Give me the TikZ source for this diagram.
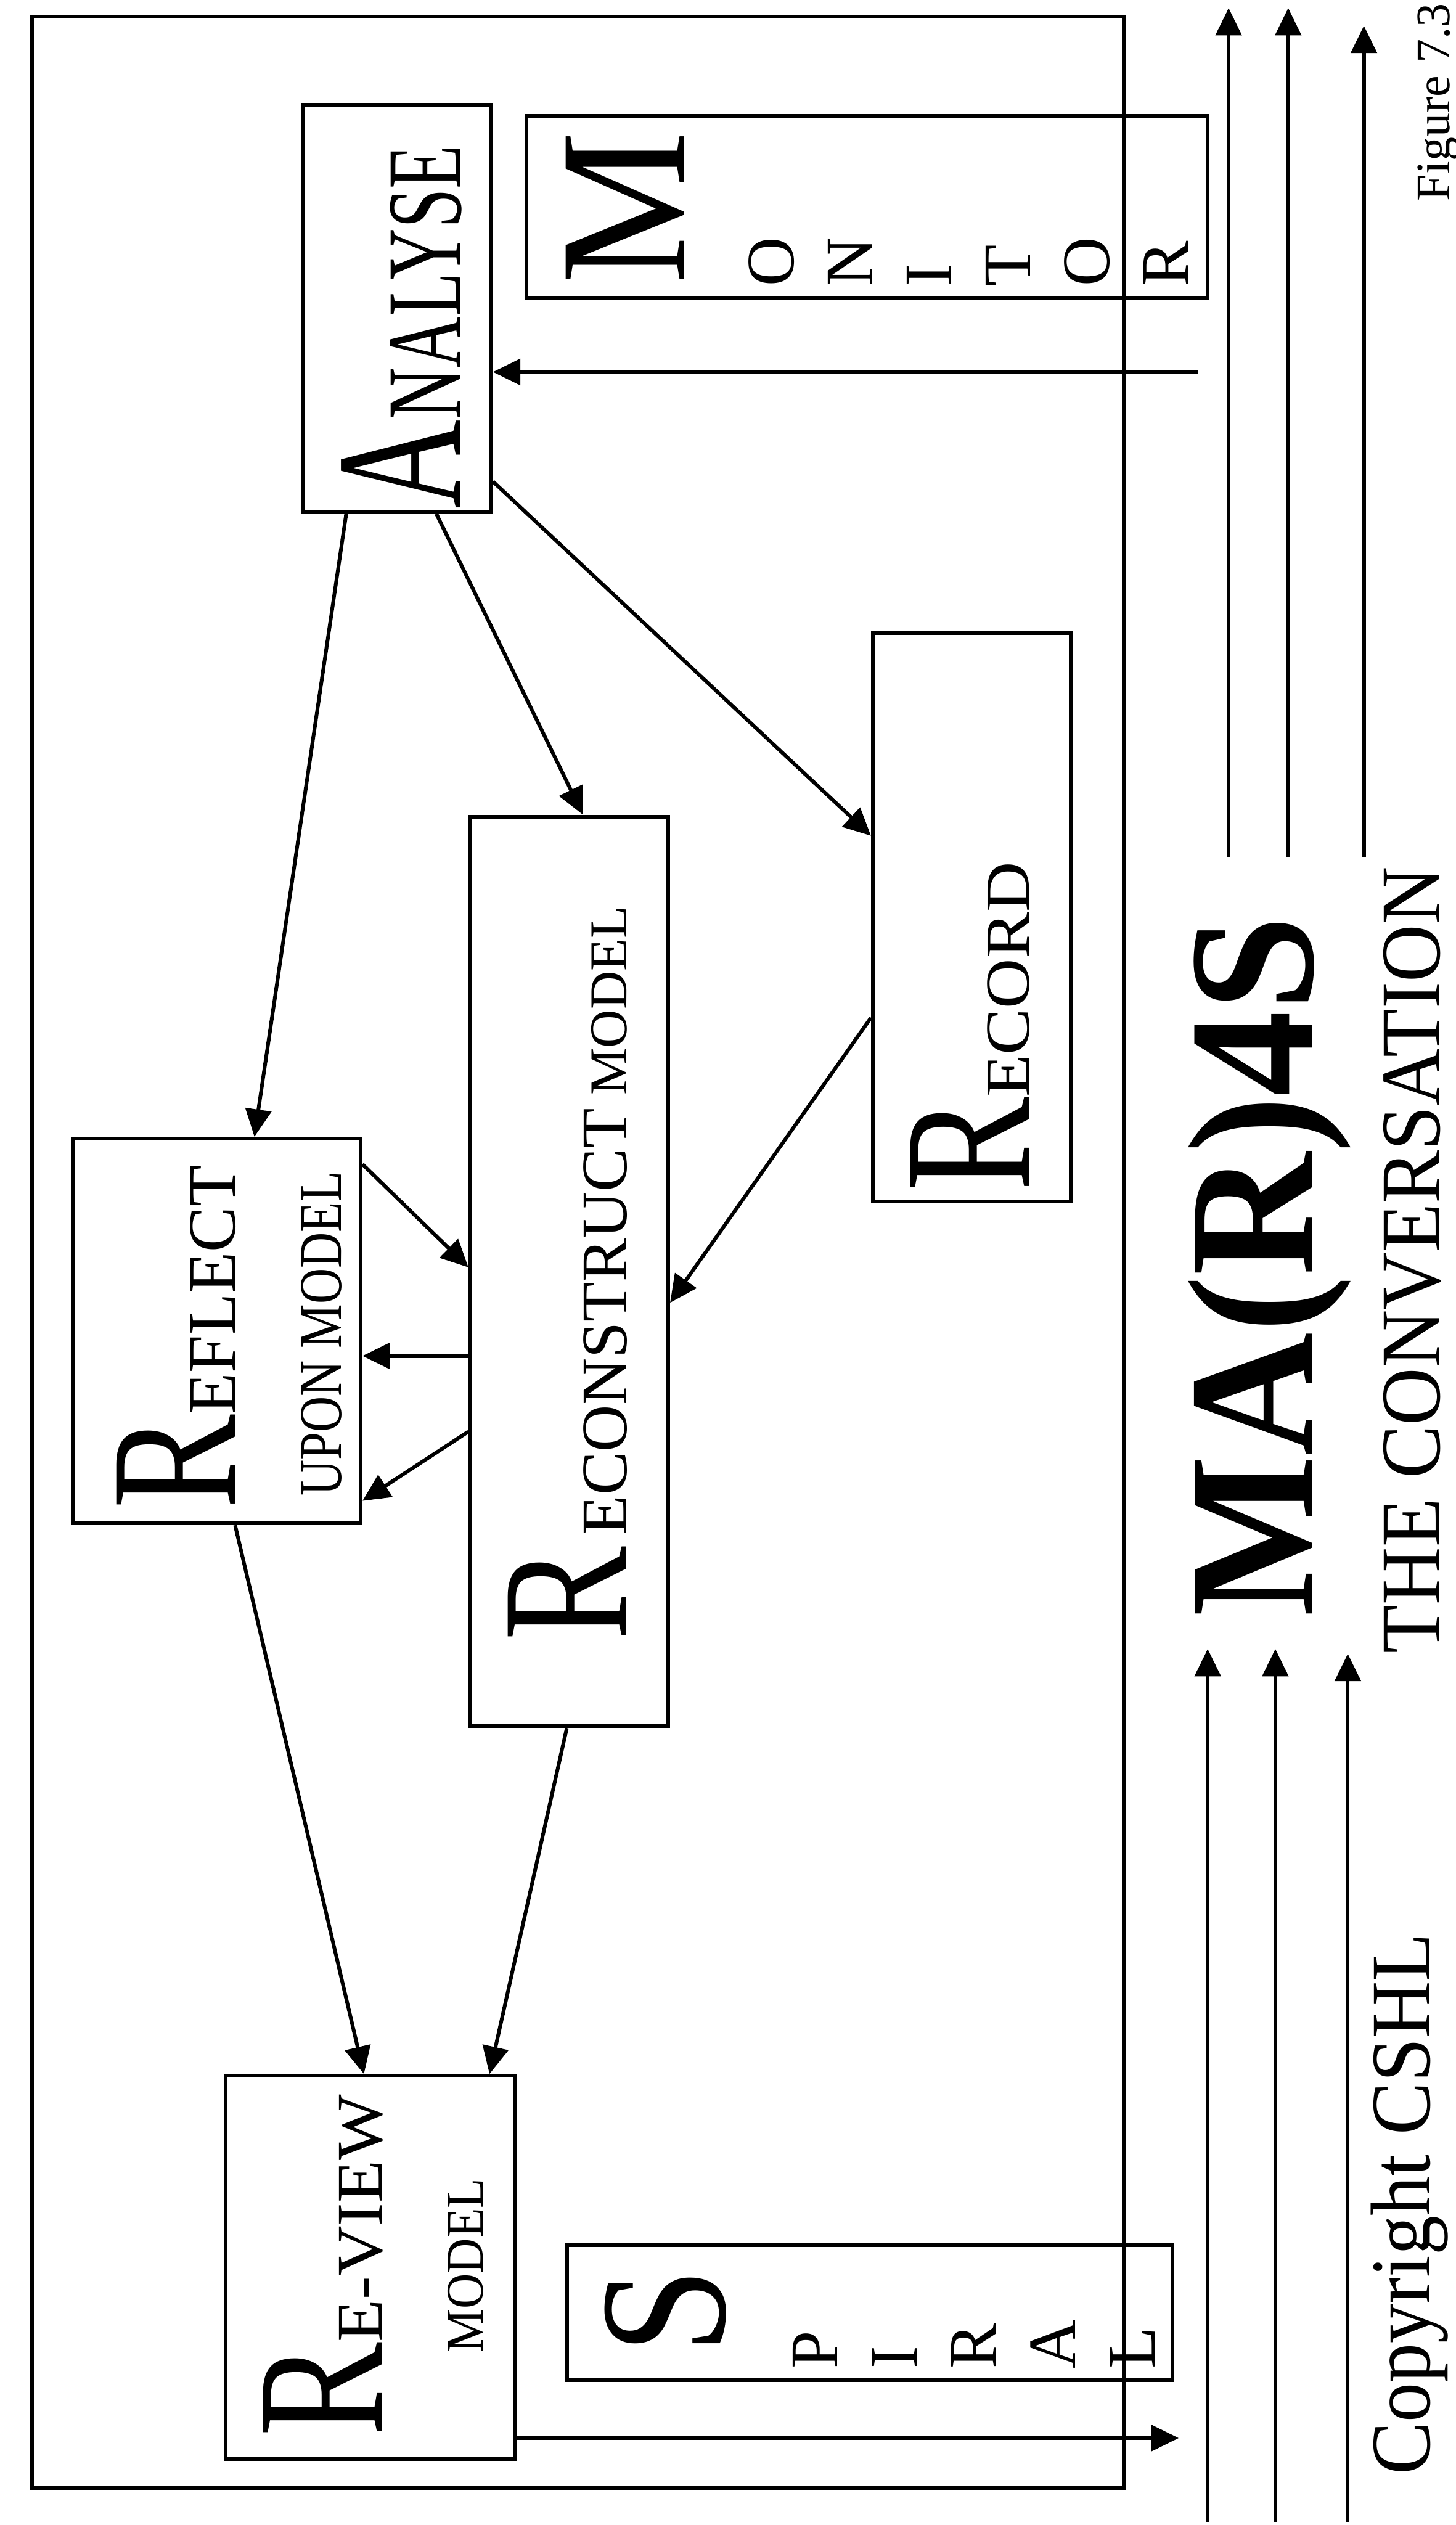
\documentclass[tikz,border=0pt]{standalone}
\usepackage{fontspec}
\setmainfont{Liberation Serif}
\usepackage{graphicx}
\usetikzlibrary{arrows.meta}

% big first letter, squeezed along the line
\newcommand{\bigini}[2]{{\fontsize{64}{64}\selectfont\scalebox{#1}[1]{#2}}}
% rest of a word: size, squeeze, text
\newcommand{\capsrun}[3]{{\fontsize{#1}{#1}\selectfont\scalebox{#2}[1]{#3}}}

\begin{document}
\begin{tikzpicture}[
      x=0.02cm, y=-0.02cm,
      line width=1.3pt,
      box/.style={draw, rectangle, inner sep=0pt},
      lbl/.style={rotate=90, anchor=base west, inner sep=0pt},
      oneletter/.style={lbl, font=\fontsize{24}{24}\selectfont},
      arr/.style={-{Triangle[length=0.34cm, width=0.32cm]}}
    ]
      \path[use as bounding box, fill=white] (0,0) rectangle (904,1568);

      % frame and boxes
      \node[box, minimum width=13.56cm, minimum height=30.7cm] (frame) at (359,777.5) {};
      \node[box, minimum width=2.34cm, minimum height=5.06cm] (analyse) at (246.5,191.5) {};
      \node[box, minimum width=8.46cm, minimum height=2.26cm] (monitor) at (538.5,128.5) {};
      \node[box, minimum width=2.46cm, minimum height=7.06cm] (record) at (603.5,569.5) {};
      \node[box, minimum width=2.46cm, minimum height=11.3cm] (recon) at (353.5,789.5) {};
      \node[box, minimum width=3.58cm, minimum height=4.78cm] (reflect) at (134.5,826.5) {};
      \node[box, minimum width=3.6cm, minimum height=4.76cm] (review) at (230,1408) {};
      \node[box, minimum width=7.52cm, minimum height=1.68cm] (spiral) at (540,1436) {};

      % labels
      \node[lbl] (analyseT) at (286,317) {\bigini{0.68}{A}\capsrun{37.7}{0.67}{NALYSE}};
      \node[lbl] (reflectT) at (146,938) {\bigini{0.78}{R}\capsrun{24}{1}{EFLECT}};
      \node[lbl] (reflectU) at (212,930) {\capsrun{21.4}{0.82}{UPON MODEL}};
      \node[lbl] (reconT) at (389,1020) {\bigini{0.78}{R}\hspace{4pt}\capsrun{23}{1}{ECONSTRUCT}\capsrun{18.8}{1}{\ MODEL}};
      \node[lbl] (recordT) at (639,741) {\bigini{0.78}{R}\capsrun{22.3}{1.1}{ECORD}};
      \node[lbl] (reviewT) at (237,1514) {\bigini{0.78}{R}\capsrun{23}{1.07}{E-VIEW}};
      \node[lbl] (reviewU) at (300,1462) {\capsrun{18.8}{0.92}{MODEL}};

      \node[lbl] (monM) at (425,178) {\bigini{0.95}{M}};
      \foreach \ch [count=\i] in {O,N,I,T,O,R}
        \node[oneletter] (mon\i) at ({493+49*(\i-1)},179) {\ch};
      \node[lbl] (spiS) at (450,1463) {\bigini{0.85}{S}};
      \foreach \ch [count=\i] in {P,I,R,A,L}
        \node[oneletter] (spi\i) at ({520+49.25*(\i-1)},1472) {\ch};

      \node[lbl, font=\bfseries] (title) at (815,1005) {\capsrun{63.4}{0.95}{MA(R)4S}};
      \node[lbl] (convo) at (894,1028) {\capsrun{30}{0.94}{THE CONVERSATION}};
      \node[lbl] (copyr) at (888,1538) {\capsrun{30}{0.93}{Copyright CSHL}};
      \node[lbl, font=\fontsize{17}{17}\selectfont] (fig) at (900,126) {Figure 7.3};

      % connectors
      \coordinate (feed) at (744,231);
      \draw[arr] (feed) -- (analyse.east |- feed);
      \draw[arr] (215,0 |- analyse.south) -- (158,0 |- reflect.north);
      \draw[arr] (271,0 |- analyse.south) -- (362,0 |- recon.north);
      \draw[arr] (analyse.east |- 0,299) -- (record.west |- 0,519);
      \draw[arr] (record.west |- 0,632) -- (recon.east |- 0,809);
      \draw[arr] (reflect.east |- 0,723) -- (recon.west |- 0,787);
      \draw[arr] (recon.west |- 0,842) -- (reflect.east |- 0,842);
      \draw[arr] (recon.west |- 0,889) -- (reflect.east |- 0,932);
      \draw[arr] (146,0 |- reflect.south) -- (226,0 |- review.north);
      \draw[arr] (352,0 |- recon.south) -- (304,0 |- review.north);
      \coordinate (spiralin) at (732,1514);
      \draw[arr] (review.east |- spiralin) -- (spiralin);

      % the conversation lines
      \foreach \x/\t [count=\i] in {763/5, 800/5, 847/16} {
        \coordinate (upfoot\i) at (\x,532);
        \coordinate (uptip\i) at (\x,\t);
        \draw[arr] (upfoot\i) -- (uptip\i);
      }
      \foreach \x/\t [count=\i] in {750/1024, 792/1024, 837/1027} {
        \coordinate (lowfoot\i) at (\x,1566);
        \coordinate (lowtip\i) at (\x,\t);
        \draw[arr] (lowfoot\i) -- (lowtip\i);
      }
    \end{tikzpicture}
\end{document}
